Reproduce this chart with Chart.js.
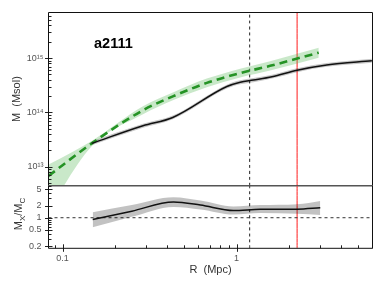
<!DOCTYPE html>
<html>
<head>
<meta charset="utf-8">
<script src="https://cdn.jsdelivr.net/npm/chart.js@4.4.1/dist/chart.umd.min.js"></script>
<style>
  html, body { margin: 0; padding: 0; background: #fff; }
  #wrap { position: relative; width: 385px; height: 289px; overflow: hidden; }
  #wrap canvas { position: absolute; left: 0; }
  #massChart { top: 0; }
  #ratioChart { top: 185px; }
</style>
</head>
<body>
<div id="wrap">
  <canvas id="massChart" width="385" height="187"></canvas>
  <canvas id="ratioChart" width="385" height="104"></canvas>
</div>
<script>
// values
const clusterName = 'a2111';

// X-ray (hydrostatic) mass profile: black line with grey band
const xrayRadius = [0.147, 0.29, 0.43, 0.88, 1.05, 1.25, 1.6, 2.23, 3.3, 6.0];
const xrayMass   = [2.7e13, 5.7e13, 8.1e13, 3.0e14, 3.6e14, 3.95e14, 4.55e14, 6.0e14, 7.5e14, 8.9e14];
const xrayHigh   = [2.95e13, 6.2e13, 8.8e13, 3.25e14, 3.9e14, 4.3e14, 4.95e14, 6.5e14, 8.1e14, 9.7e14];
const xrayLow    = [2.5e13, 5.25e13, 7.5e13, 2.75e14, 3.3e14, 3.6e14, 4.2e14, 5.5e14, 6.9e14, 8.2e14];

// caustic mass profile: green dashed line with green band
const causticRadius = [0.083, 0.147, 0.29, 0.434, 0.675, 1.05, 1.56, 2.97];
const causticMass   = [6.8e12, 2.7e13, 1.1e14, 2.0e14, 3.5e14, 5.3e14, 7.2e14, 1.26e15];
const causticHigh   = [1.1e13, 3.0e13, 1.3e14, 2.35e14, 4.2e14, 6.4e14, 8.8e14, 1.55e15];
const causticLow    = [1.6e12, 2.4e13, 9.3e13, 1.7e14, 2.9e14, 4.4e14, 5.9e14, 1.02e15];

// lower panel: Mx / Mc
const ratioRadius = [0.149, 0.25, 0.434, 0.62, 0.96, 1.37, 2.23, 3.03];
const ratioValue  = [0.9, 1.45, 2.45, 2.05, 1.5, 1.62, 1.63, 1.77];
const ratioHigh   = [1.36, 2.05, 3.2, 2.65, 1.9, 2.05, 2.15, 2.6];
const ratioLow    = [0.58, 1.05, 1.85, 1.6, 1.2, 1.3, 1.25, 1.17];

// marked radii
const dashedRadius = 1.19;
const redRadius = 2.23;

// axes
const radiusRange = [0.083, 6.05];
const massRange = [4.5e12, 6.9e15];
const ratioRange = [0.176, 6.17];
const radiusTicks = [0.1, 1];
const massTicks = [1e13, 1e14, 1e15];
const ratioTicks = [0.2, 0.5, 1, 2, 5];

const FONT = '"Liberation Sans", Arial, Helvetica, sans-serif';
const SUP = '⁰¹²³⁴⁵⁶⁷⁸⁹';

function pts(xs, ys) {
  return xs.map((x, i) => ({ x: x, y: ys[i] }));
}

function decadeTicks(min, max) {
  const out = [];
  for (let e = Math.floor(Math.log10(min)); e <= Math.ceil(Math.log10(max)); e++) {
    for (let m = 1; m < 10; m++) {
      const v = m * Math.pow(10, e);
      if (v >= min && v <= max) out.push(v);
    }
  }
  return out;
}

// inward minor ticks, major ticks crossing the axis
const tickMarks = {
  id: 'tickMarks',
  afterDraw(chart, args, opts) {
    const ctx = chart.ctx;
    const a = chart.chartArea;
    ctx.save();
    ctx.strokeStyle = '#222';
    ctx.lineWidth = 1;
    (opts.axes || []).forEach(function (ax) {
      const scale = chart.scales[ax.id];
      decadeTicks(scale.min, scale.max).forEach(function (v) {
        const major = ax.major.some(m => Math.abs(m - v) / m < 1e-6);
        const inner = major ? 4 : 3;
        const outer = major ? 3.5 : 0;
        const p = Math.round(scale.getPixelForValue(v)) + 0.5;
        ctx.beginPath();
        if (ax.id === 'x') {
          ctx.moveTo(p, a.bottom + outer);
          ctx.lineTo(p, a.bottom - inner);
        } else {
          ctx.moveTo(a.left - outer, p);
          ctx.lineTo(a.left + inner, p);
        }
        ctx.stroke();
      });
    });
    ctx.restore();
  }
};

// panel frame
const frame = {
  id: 'frame',
  afterDraw(chart, args, opts) {
    const ctx = chart.ctx;
    const a = chart.chartArea;
    ctx.save();
    ctx.strokeStyle = '#111';
    ctx.lineWidth = 1;
    ctx.beginPath();
    if (opts.top) {
      ctx.moveTo(a.left, a.bottom);
      ctx.lineTo(a.left, a.top);
      ctx.lineTo(a.right, a.top);
      ctx.lineTo(a.right, a.bottom);
    } else {
      ctx.moveTo(a.left, a.top);
      ctx.lineTo(a.left, a.bottom);
      ctx.lineTo(a.right, a.bottom);
      ctx.lineTo(a.right, a.top);
    }
    ctx.stroke();
    if (opts.divider) {
      ctx.strokeStyle = '#555';
      ctx.lineWidth = 1.6;
      ctx.beginPath();
      ctx.moveTo(a.left, a.bottom);
      ctx.lineTo(a.right, a.bottom);
      ctx.stroke();
    }
    ctx.restore();
  }
};

// cluster name inside the upper panel
const panelLabel = {
  id: 'panelLabel',
  afterDraw(chart, args, opts) {
    if (!opts.text) return;
    const ctx = chart.ctx;
    const a = chart.chartArea;
    ctx.save();
    ctx.font = 'bold 14.5px ' + FONT;
    ctx.fillStyle = '#000';
    ctx.textBaseline = 'alphabetic';
    ctx.fillText(opts.text, a.left + 45.5, a.top + 35.5);
    ctx.restore();
  }
};

// "Mx/Mc" with subscripts, rotated
const ratioTitle = {
  id: 'ratioTitle',
  afterDraw(chart, args, opts) {
    if (!opts.show) return;
    const ctx = chart.ctx;
    const a = chart.chartArea;
    const parts = [['M', false], ['X', true], ['/M', false], ['C', true]];
    const big = '11px ' + FONT, small = '8px ' + FONT;
    ctx.save();
    ctx.fillStyle = '#333';
    ctx.textBaseline = 'alphabetic';
    let total = 0;
    parts.forEach(p => { ctx.font = p[1] ? small : big; total += ctx.measureText(p[0]).width; });
    ctx.translate(22, (a.top + a.bottom) / 2 - 3);
    ctx.rotate(-Math.PI / 2);
    let x = -total / 2;
    parts.forEach(p => {
      ctx.font = p[1] ? small : big;
      ctx.fillText(p[0], x, p[1] ? 2.5 : 0);
      x += ctx.measureText(p[0]).width;
    });
    ctx.restore();
  }
};

// fixed axis box; drop the label overhang padding so both panels line up
function fixWidth(scale) {
  scale.width = 48.5;
  scale.paddingTop = 0;
  scale.paddingBottom = 0;
}
function fixHeight(scale) {
  scale.height = 40.7;
  scale.paddingLeft = 0;
  scale.paddingRight = 0;
}

const lineBase = { pointRadius: 0, pointHoverRadius: 0, cubicInterpolationMode: 'monotone', clip: 0 };

// ---------- upper panel ----------
new Chart(document.getElementById('massChart'), {
  type: 'line',
  data: {
    datasets: [
      Object.assign({ data: pts(xrayRadius, xrayMass), borderColor: '#111', borderWidth: 1.5, fill: false }, lineBase),
      Object.assign({ data: pts(causticRadius, causticMass), borderColor: '#259325', borderWidth: 2.6,
        borderDash: [8, 5], fill: false }, lineBase),
      Object.assign({ data: pts(xrayRadius, xrayHigh), borderWidth: 0, backgroundColor: 'rgba(0,0,0,0.22)', fill: '+1' }, lineBase),
      Object.assign({ data: pts(xrayRadius, xrayLow), borderWidth: 0, fill: false }, lineBase),
      Object.assign({ data: pts(causticRadius, causticHigh), borderWidth: 0, backgroundColor: 'rgba(90,185,90,0.33)', fill: '+1' }, lineBase),
      Object.assign({ data: pts(causticRadius, causticLow), borderWidth: 0, fill: false }, lineBase),
      Object.assign({ data: pts([dashedRadius, dashedRadius], massRange), borderColor: '#222', borderWidth: 1,
        borderDash: [3, 3], fill: false }, lineBase),
      Object.assign({ data: pts([redRadius, redRadius], massRange), borderColor: '#ff1a1a', borderWidth: 1, fill: false }, lineBase)
    ]
  },
  options: {
    responsive: false,
    animation: false,
    devicePixelRatio: 1,
    events: [],
    layout: { autoPadding: false, padding: { top: 12.5, right: 12.5, bottom: 1.3, left: 0 } },
    scales: {
      x: {
        type: 'logarithmic', display: false,
        min: radiusRange[0], max: radiusRange[1]
      },
      y: {
        type: 'logarithmic',
        min: massRange[0], max: massRange[1],
        afterFit: fixWidth,
        afterBuildTicks: s => { s.ticks = massTicks.map(v => ({ value: v })); },
        grid: { display: false, drawTicks: false, tickLength: 0 },
        border: { display: false },
        ticks: {
          autoSkip: false, padding: 5, color: '#555',
          font: { family: FONT, size: 9 },
          callback: v => '10' + String(Math.round(Math.log10(v))).split('').map(d => SUP[+d]).join('')
        },
        title: {
          display: true, text: 'M  (Msol)', color: '#333',
          font: { family: FONT, size: 11 }, padding: { top: 10, bottom: 0 }
        }
      }
    },
    plugins: {
      legend: { display: false },
      tooltip: { enabled: false },
      tickMarks: { axes: [{ id: 'y', major: massTicks }] },
      frame: { top: true, divider: true },
      panelLabel: { text: clusterName },
      ratioTitle: { show: false }
    }
  },
  plugins: [tickMarks, frame, panelLabel, ratioTitle]
});

// ---------- lower panel ----------
new Chart(document.getElementById('ratioChart'), {
  type: 'line',
  data: {
    datasets: [
      Object.assign({ data: pts(ratioRadius, ratioValue), borderColor: '#111', borderWidth: 1.5, fill: false }, lineBase),
      Object.assign({ data: pts(ratioRadius, ratioHigh), borderWidth: 0, backgroundColor: 'rgba(0,0,0,0.24)', fill: '+1' }, lineBase),
      Object.assign({ data: pts(ratioRadius, ratioLow), borderWidth: 0, fill: false }, lineBase),
      Object.assign({ data: pts(radiusRange, [1, 1]), borderColor: '#333', borderWidth: 1,
        borderDash: [3, 3], fill: false }, lineBase),
      Object.assign({ data: pts([dashedRadius, dashedRadius], ratioRange), borderColor: '#222', borderWidth: 1,
        borderDash: [3, 3], fill: false }, lineBase),
      Object.assign({ data: pts([redRadius, redRadius], ratioRange), borderColor: '#ff1a1a', borderWidth: 1, fill: false }, lineBase)
    ]
  },
  options: {
    responsive: false,
    animation: false,
    devicePixelRatio: 1,
    events: [],
    layout: { autoPadding: false, padding: { top: 0.7, right: 12.5, bottom: 0, left: 0 } },
    scales: {
      x: {
        type: 'logarithmic',
        min: radiusRange[0], max: radiusRange[1],
        afterFit: fixHeight,
        afterBuildTicks: s => { s.ticks = radiusTicks.map(v => ({ value: v })); },
        grid: { display: false, drawTicks: false, tickLength: 0 },
        border: { display: false },
        ticks: {
          autoSkip: false, maxRotation: 0, padding: 5, color: '#555',
          font: { family: FONT, size: 9 },
          callback: v => String(v)
        },
        title: {
          display: true, text: 'R  (Mpc)', color: '#333',
          font: { family: FONT, size: 11 }, padding: { top: 0, bottom: 12.4 }
        }
      },
      y: {
        type: 'logarithmic',
        min: ratioRange[0], max: ratioRange[1],
        afterFit: fixWidth,
        afterBuildTicks: s => { s.ticks = ratioTicks.map(v => ({ value: v })); },
        grid: { display: false, drawTicks: false, tickLength: 0 },
        border: { display: false },
        ticks: {
          autoSkip: false, padding: 7, color: '#555',
          font: { family: FONT, size: 9 },
          callback: v => String(v)
        }
      }
    },
    plugins: {
      legend: { display: false },
      tooltip: { enabled: false },
      tickMarks: { axes: [{ id: 'y', major: ratioTicks }, { id: 'x', major: radiusTicks }] },
      frame: { top: false, divider: false },
      panelLabel: { text: '' },
      ratioTitle: { show: true }
    }
  },
  plugins: [tickMarks, frame, panelLabel, ratioTitle]
});
</script>
</body>
</html>
